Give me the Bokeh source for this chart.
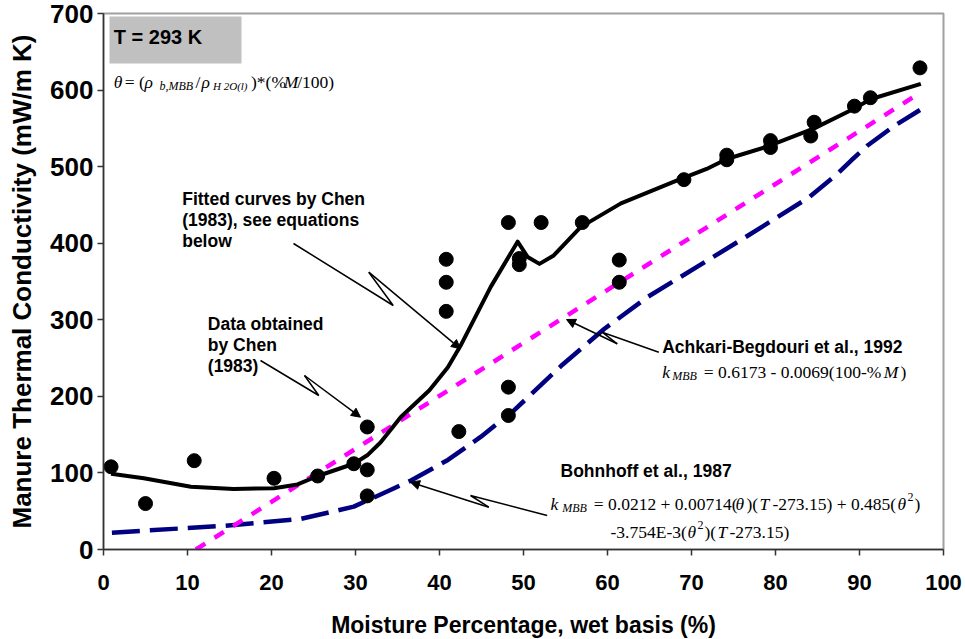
from bokeh.plotting import figure
from bokeh.models import Range1d, FixedTicker, Label, Arrow, NormalHead, BoxAnnotation
from bokeh.core.properties import value
from bokeh.embed import file_html
from bokeh.resources import INLINE

# ---- data ----
x_ticks = [0, 10, 20, 30, 40, 50, 60, 70, 80, 90, 100]
y_ticks = [0, 100, 200, 300, 400, 500, 600, 700]

# Data obtained by Chen (1983)
chen_m = [0.9, 5.0, 10.8, 20.3, 25.5, 29.8, 31.4, 31.4, 31.4, 40.8, 40.8, 40.8,
          42.3, 48.2, 48.2, 48.2, 49.5, 49.5, 52.1, 57.0, 61.4, 61.4, 69.1, 74.2,
          74.2, 79.4, 79.4, 84.2, 84.6, 89.4, 91.3, 97.2]
chen_k = [108, 60, 116, 93, 96, 112, 160, 104, 70, 379, 349, 311,
          154, 427, 212, 175, 372, 380, 427, 427, 378, 349, 483, 515,
          509, 534, 525, 540, 558, 579, 590, 629]

# Fitted curve by Chen (1983)
fit_m = [0.9, 4.8, 10.4, 15.5, 20.3, 23.1, 25.5, 29.8, 31.4, 33.0, 35.4, 38.8,
         41.0, 42.5, 46.1, 49.3, 50.5, 51.9, 53.6, 56.8, 61.6, 68.3, 71.8, 74.2,
         79.0, 84.6, 89.4, 91.3, 97.3]
fit_k = [99, 93, 82, 79, 80, 85, 96, 112, 123, 140, 173, 208,
         238, 266, 343, 402, 382, 373, 384, 421, 452, 482, 497, 510,
         526, 550, 576, 588, 608]

# Achkari-Begdouri et al., 1992
ach_m = [11.0, 97.3]
ach_k = [0, 597]

# Bohnhoff et al., 1987
bohn_m = [1.0, 14.4, 23.5, 29.8, 34.6, 36.6, 41.0, 44.9, 48.9, 54.6, 59.6, 64.8,
          68.7, 76.0, 84.0, 87.4, 89.0, 91.0, 94.1, 97.2]
bohn_k = [22, 31, 40, 56, 80, 90, 117, 147, 182, 241, 288, 330,
          356, 405, 460, 491, 508, 528, 553, 574]

# ---- layout helpers (pixel position -> data units, for annotations only) ----
FL, FW, FT, FH = 103, 840, 13, 536
XMAX, YMAX = 100, 700


def tx(px):
    return (px - FL) / FW * XMAX


def ty(py):
    return (FT + FH - py) / FH * YMAX


p = figure(frame_width=FW, frame_height=FH, output_backend="svg", toolbar_location=None,
           x_range=Range1d(0, XMAX), y_range=Range1d(0, YMAX),
           min_border_left=FL, min_border_right=965 - FL - FW, min_border_top=FT,
           min_border_bottom=639 - FT - FH)
p.background_fill_color = "white"
p.border_fill_color = "white"
p.outline_line_color = "#a0a0a0"
p.outline_line_width = 2
p.xgrid.visible = False
p.ygrid.visible = False

for ax in (p.xaxis[0], p.yaxis[0]):
    ax.axis_line_color = "#333333"
    ax.axis_line_width = 1.5
    ax.major_tick_line_color = "#333333"
    ax.major_tick_line_width = 1.5
    ax.major_tick_out = 6
    ax.major_tick_in = 0
    ax.minor_tick_out = 0
    ax.minor_tick_in = 0
    ax.major_label_text_font = "Liberation Sans"
    ax.major_label_text_font_style = "bold"
    ax.major_label_text_color = "black"
    ax.axis_label_text_font = "Liberation Sans"
    ax.axis_label_text_font_style = "bold"
    ax.axis_label_text_color = "black"

p.xaxis.ticker = FixedTicker(ticks=x_ticks)
p.yaxis.ticker = FixedTicker(ticks=y_ticks)
p.xaxis.axis_label = "Moisture Percentage, wet basis (%)"
p.yaxis.axis_label = "Manure Thermal Conductivity (mW/m K)"
p.xaxis.major_label_text_font_size = "22px"
p.yaxis.major_label_text_font_size = "26px"
p.xaxis.axis_label_text_font_size = "23px"
p.yaxis.axis_label_text_font_size = "26px"
p.xaxis.major_label_standoff = 19
p.yaxis.major_label_standoff = 4
p.xaxis.axis_label_standoff = 19
p.yaxis.axis_label_standoff = 10

# grey box with temperature
p.add_layout(BoxAnnotation(left=tx(109), right=tx(241), top=ty(16), bottom=ty(63),
                           fill_color="#c0c0c0", fill_alpha=1, line_color=None))

# series
p.line(bohn_m, bohn_k, line_color="#000080", line_width=4.5, line_dash="28 10")
p.line(ach_m, ach_k, line_color="#ff00ff", line_width=4.5, line_dash="11 11")
p.line(fit_m, fit_k, line_color="black", line_width=4, line_join="round")
p.scatter(chen_m, chen_k, size=14, marker="circle", fill_color="black", line_color="black")

# ---- callouts with zigzag ----
callouts = [
    [(293, 243), (392.7, 305), (368.3, 271.7), (460, 348.3)],
    [(260, 360), (318.3, 395), (304, 375), (360, 416.7)],
    [(658.3, 351.7), (601.7, 331.7), (616.7, 343.3), (566, 319)],
    [(546.7, 515), (470, 495), (488.3, 506.7), (410, 481.7)],
]
for pts in callouts:
    xs = [tx(a) for a, b in pts]
    ys = [ty(b) for a, b in pts]
    p.line(xs[:3], ys[:3], line_color="black", line_width=1.5)
    p.add_layout(Arrow(end=NormalHead(size=9, fill_color="black", line_color="black"),
                       x_start=xs[2], y_start=ys[2], x_end=xs[3], y_end=ys[3],
                       line_color="black", line_width=1.5))


# ---- bold labels ----
def bold(txt, px, base, size="17.5px"):
    p.add_layout(Label(x=tx(px), y=ty(base), text=txt, text_font="Liberation Sans",
                       text_font_style="bold", text_font_size=size, text_color="black",
                       text_baseline="alphabetic", text_align="left"))


bold("T = 293 K", 113.3, 36.7, "20px")
bold("Fitted curves by Chen", 181.7, 198.3)
bold("(1983), see equations", 181.7, 219.6)
bold("below", 181.7, 240.9)
bold("Data obtained", 207.3, 323.3)
bold("by Chen", 207.3, 344.6)
bold("(1983)", 207.3, 365.9)
bold("Achkari-Begdouri et al., 1992", 661.7, 346.7)
bold("Bohnhoff et al., 1987", 560, 470.7)


# ---- equations (serif, mixed styles); each piece: text, style, kind, left px ----
def eq(pieces, base, size=17.5):
    for txt, style, kind, px in pieces:
        fs = size if kind == "n" else (11 if kind == "sub2" else 12)
        dy = 0 if kind == "n" else (-7 if kind == "sup" else 4)
        p.text(x=[tx(px)], y=[ty(base + dy)], text=[txt], text_font=value("Liberation Serif"),
               text_font_style=style, text_font_size=f"{fs}px", text_color="black",
               text_baseline="alphabetic", text_align="left")


eq([("θ", "italic", "n", 113.3), ("= (", "normal", "n", 124.3), ("ρ", "italic", "n", 144),
    ("b,MBB", "italic", "sub", 159), ("/", "normal", "n", 195), ("ρ", "italic", "n", 201),
    ("H 2O(l)", "italic", "sub2", 212.5), (")*(%", "normal", "n", 250.5),
    ("M", "italic", "n", 283.3), ("/100)", "normal", "n", 296.7)], 81.7)

eq([("k", "italic", "n", 661.7), ("MBB", "italic", "sub", 671.7),
    ("= 0.6173 - 0.0069(100-%", "normal", "n", 703.3), ("M", "italic", "n", 883.3),
    (")", "normal", "n", 900)], 371.7)

eq([("k", "italic", "n", 550), ("MBB", "italic", "sub", 561.7),
    ("= 0.0212 + 0.00714(", "normal", "n", 593.3), ("θ", "italic", "n", 735),
    (")(", "normal", "n", 746), ("T", "italic", "n", 759),
    ("-273.15) + 0.485(", "normal", "n", 772), ("θ", "italic", "n", 897),
    ("2", "normal", "sup", 907), (")", "normal", "n", 914)], 503)

eq([("-3.754E-3(", "normal", "n", 610), ("θ", "italic", "n", 687),
    ("2", "normal", "sup", 697), (")(", "normal", "n", 704), ("T", "italic", "n", 717),
    ("-273.15)", "normal", "n", 729)], 531.7)

open("out.html", "w").write(file_html(p, INLINE))
